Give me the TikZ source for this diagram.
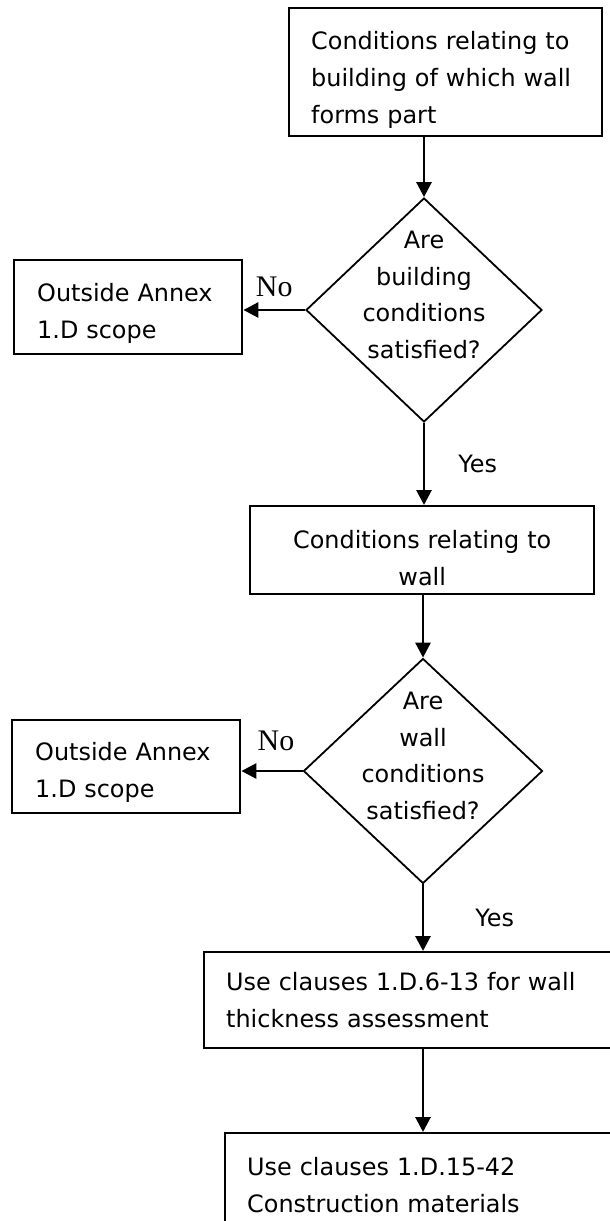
\documentclass[tikz,border=0pt]{standalone}
\usepackage{fontspec}
\setmainfont{DejaVu Sans}
\newfontfamily\nofont{Liberation Serif}
\usetikzlibrary{positioning,arrows.meta,shapes.geometric}
\tikzset{>={Triangle[length=7.5bp,width=7.5bp]}}

\begin{document}
\begin{tikzpicture}[x=0.5bp,y=-0.5bp]
    \fontsize{12}{18.5}\selectfont
    \tikzset{
    box/.style={draw, line width=1.2bp, rectangle, anchor=north west, inner xsep=11bp, inner ysep=0pt, align=left},
    drop/.style={execute at begin node={\rule{0pt}{#1}}},
    decision/.style={draw, line width=0.9bp, diamond, inner sep=0pt},
    flow/.style={->, line width=1.4bp},
    answer/.style={inner sep=0pt},
    nolabel/.style={answer, font=\nofont\fontsize{15}{15}\selectfont},
    }
    \clip (0,0) rectangle (610,1221);

    % Building conditions.
    \node [box, drop=17bp, text width=134.5bp, minimum height=64bp] (build) at (288,7)
        {Conditions relating to\\building of which wall\\forms part};
    \node [decision, minimum width=118bp, minimum height=112bp,
        label={[yshift=7.5bp, align=center]center:Are\\building\\conditions\\satisfied?}] (q1) at (424,310) {};
    \node [box, drop=15bp, inner xsep=11.5bp, text width=91bp, minimum height=47bp] (out1) at (13,259)
        {Outside Annex\\1.D scope};

    % Wall conditions.
    \node [box, drop=17bp, align=center, text width=150bp, minimum height=44bp] (wall) at (249,505)
        {Conditions relating to\\wall};
    \node [decision, minimum width=119.5bp, minimum height=112.5bp,
        label={[yshift=7.5bp, align=center]center:Are\\wall\\conditions\\satisfied?}] (q2) at (423,771) {};
    \node [box, drop=15bp, inner xsep=11.5bp, text width=91bp, minimum height=46.5bp] (out2) at (11,719)
        {Outside Annex\\1.D scope};

    % Clauses.
    \node [box, text width=260bp, minimum height=48bp] (thick) at (203,951)
        {Use clauses 1.D.6-13 for wall\\thickness assessment};
    \node [box, text width=260bp, minimum height=51.5bp] (mat) at (224,1132)
        {Use clauses 1.D.15-42\\Construction materials};

    % Connections.
    \draw [flow] (q1.north |- build.south) -- (q1.north);
    \draw [flow] (q1.west) -- (q1.west -| out1.east)
        node [nolabel, midway, above=6bp] (no1) {No};
    \draw [flow] (q1.south) -- (q1.south |- wall.north)
        node [answer, midway, right=16.5bp] (yes1) {Yes};
    \draw [flow] (q2.north |- wall.south) -- (q2.north);
    \draw [flow] (q2.west) -- (q2.west -| out2.east)
        node [nolabel, midway, above=9.5bp, xshift=2bp] (no2) {No};
    \draw [flow] (q2.south) -- (q2.south |- thick.north)
        node [answer, midway, right=25.5bp] (yes2) {Yes};
    \draw [flow] (q2.south |- thick.south) -- (q2.south |- mat.north);
\end{tikzpicture}
\end{document}
